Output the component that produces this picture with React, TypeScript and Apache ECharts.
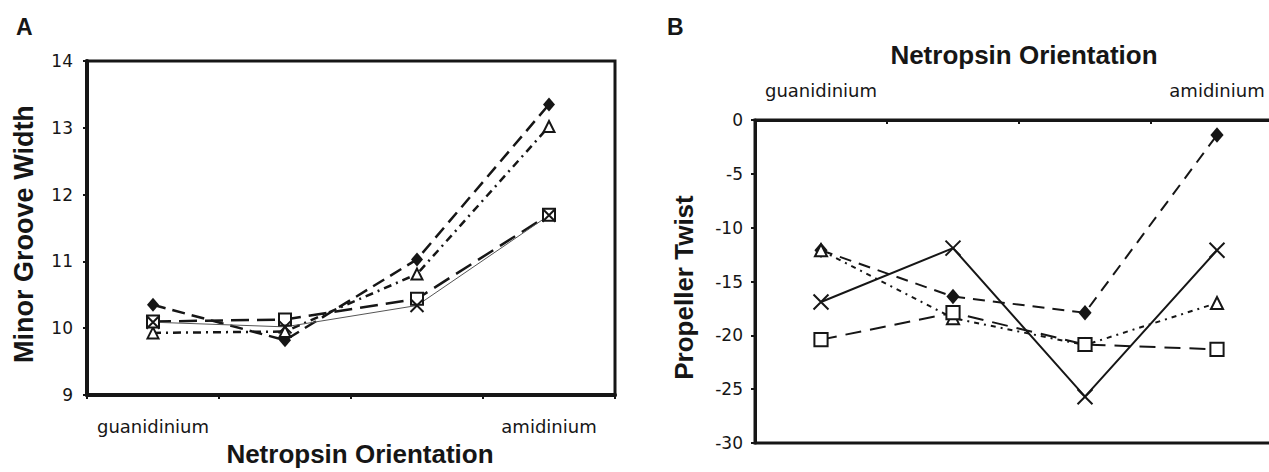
import React, { useEffect, useRef } from "react";
import * as echarts from "echarts";

// Categories (x positions along netropsin orientation)
const categories = ["guanidinium", "", "", "amidinium"];

// Panel A: Minor Groove Width
const grooveTicks = { min: 9, max: 14, interval: 1 };
const grooveDiamond = [10.35, 9.82, 11.03, 13.35];
const grooveTriangle = [9.93, 9.95, 10.81, 13.02];
const grooveSquare = [10.1, 10.13, 10.44, 11.7];
const grooveCross = [10.09, 10.02, 10.34, 11.69];

// Panel B: Propeller Twist
const twistTicks = { min: -30, max: 0, interval: 5 };
const twistDiamond = [-12.1, -16.4, -17.9, -1.4];
const twistTriangle = [-12.1, -18.4, -20.9, -17.0];
const twistSquare = [-20.4, -17.9, -20.85, -21.3];
const twistCross = [-16.9, -11.9, -25.7, -12.1];

const crossPath = "path://M0,0L10,10M10,0L0,10";
const INK = "#161616";
const TICK_FONT = "DejaVu Sans";
const TITLE_FONT = "Liberation Sans";

export default function App() {
  const ref = useRef<HTMLDivElement>(null);

  useEffect(() => {
    if (!ref.current) return;
    const chart = echarts.init(ref.current, null, { renderer: "svg" });

    const titleStyle = {
      fontFamily: TITLE_FONT,
      fontWeight: "bold" as const,
      fontSize: 26,
      color: INK,
    };

    const markerSeries = (
      name: string,
      data: number[],
      xi: number,
      kind: "diamond" | "triangle" | "square" | "cross",
      line: any,
      scale: number
    ) => {
      const base: any = {
        name,
        type: "line",
        xAxisIndex: xi,
        yAxisIndex: xi,
        data,
        lineStyle: line,
        z: 3,
      };
      if (kind === "diamond") {
        base.symbol = "diamond";
        base.symbolSize = [12 * scale, 14 * scale];
        base.itemStyle = { color: INK, borderWidth: 0 };
      } else if (kind === "triangle") {
        base.symbol = "triangle";
        base.symbolSize = 11 * scale;
        base.itemStyle = { color: "#fff", borderColor: INK, borderWidth: 2 };
      } else if (kind === "square") {
        base.symbol = "rect";
        base.symbolSize = 12 * scale;
        base.itemStyle = { color: "#fff", borderColor: INK, borderWidth: 2 };
      } else {
        base.symbol = crossPath;
        base.symbolSize = 13 * scale;
        base.itemStyle = { color: INK, borderColor: INK, borderWidth: 2 };
      }
      return base;
    };

    const option: any = {
      animation: false,
      backgroundColor: "#fff",
      graphic: [
        {
          type: "text",
          left: 16,
          top: 15,
          style: { text: "A", fontFamily: TITLE_FONT, fontWeight: "bold", fontSize: 23, fill: INK },
        },
        {
          type: "text",
          left: 667,
          top: 15,
          style: { text: "B", fontFamily: TITLE_FONT, fontWeight: "bold", fontSize: 23, fill: INK },
        },
      ],
      grid: [
        {
          left: 87,
          top: 61,
          width: 528,
          height: 335,
          show: true,
          borderColor: INK,
          borderWidth: 3,
          containLabel: false,
        },
        {
          left: 755,
          top: 120,
          width: 528,
          height: 323,
          show: true,
          borderColor: INK,
          borderWidth: 3,
          containLabel: false,
        },
      ],
      xAxis: [
        {
          type: "category",
          gridIndex: 0,
          data: categories,
          boundaryGap: true,
          position: "bottom",
          name: "Netropsin Orientation",
          nameLocation: "middle",
          nameGap: 46,
          nameTextStyle: { ...titleStyle, padding: [0, 0, 0, 18] },
          axisLine: { lineStyle: { color: INK, width: 4 } },
          axisTick: { show: true, length: 4, lineStyle: { color: INK, width: 2 } },
          axisLabel: { margin: 22, fontFamily: TICK_FONT, fontSize: 18, color: INK, interval: 0 },
          splitLine: { show: false },
        },
        {
          type: "category",
          gridIndex: 1,
          data: categories,
          boundaryGap: true,
          position: "top",
          name: "Netropsin Orientation",
          nameLocation: "middle",
          nameGap: 52,
          nameTextStyle: { ...titleStyle, padding: [0, 0, 0, 10] },
          axisLine: { lineStyle: { color: INK, width: 3 } },
          axisTick: { show: true, inside: true, length: 4, lineStyle: { color: INK, width: 2 } },
          axisLabel: { margin: 21, fontFamily: TICK_FONT, fontSize: 18, color: INK, interval: 0 },
          splitLine: { show: false },
        },
      ],
      yAxis: [
        {
          type: "value",
          gridIndex: 0,
          min: grooveTicks.min,
          max: grooveTicks.max,
          interval: grooveTicks.interval,
          name: "Minor Groove Width",
          nameLocation: "middle",
          nameGap: 50,
          nameTextStyle: { ...titleStyle, fontSize: 27, padding: [0, 12, 0, 0] },
          axisLine: { show: true, lineStyle: { color: INK, width: 4 } },
          axisTick: { show: true, length: 4, lineStyle: { color: INK, width: 2 } },
          axisLabel: { margin: 14, fontFamily: TICK_FONT, fontSize: 17, color: INK },
          splitLine: { show: false },
        },
        {
          type: "value",
          gridIndex: 1,
          min: twistTicks.min,
          max: twistTicks.max,
          interval: twistTicks.interval,
          name: "Propeller Twist",
          nameLocation: "middle",
          nameGap: 58,
          nameTextStyle: { ...titleStyle, padding: [0, 12, 0, 0] },
          axisLine: { show: true, lineStyle: { color: INK, width: 3 } },
          axisTick: { show: true, length: 4, lineStyle: { color: INK, width: 2 } },
          axisLabel: { margin: 12, fontFamily: TICK_FONT, fontSize: 17, color: INK },
          splitLine: { show: false },
        },
      ],
      series: [
        markerSeries("A diamond", grooveDiamond, 0, "diamond", { color: INK, width: 2.5, type: [13, 7] }, 1),
        markerSeries("A triangle", grooveTriangle, 0, "triangle", { color: INK, width: 2.5, type: [8, 5, 2, 5] }, 1),
        markerSeries("A square", grooveSquare, 0, "square", { color: INK, width: 2.5, type: [18, 8] }, 1),
        markerSeries("A cross", grooveCross, 0, "cross", { color: "#555", width: 1, type: "solid" }, 1),
        markerSeries("B diamond", twistDiamond, 1, "diamond", { color: INK, width: 2, type: [12, 8] }, 1.1),
        markerSeries("B triangle", twistTriangle, 1, "triangle", { color: INK, width: 2, type: [5, 5, 2, 5] }, 1.1),
        markerSeries("B square", twistSquare, 1, "square", { color: INK, width: 2, type: [16, 9] }, 1.1),
        markerSeries("B cross", twistCross, 1, "cross", { color: INK, width: 2, type: "solid" }, 1.15),
      ],
    };

    chart.setOption(option);
    return () => chart.dispose();
  }, []);

  return (
    <div
      ref={ref}
      style={{ position: "fixed", left: 0, top: 0, width: 1300, height: 472, background: "#fff" }}
    />
  );
}
